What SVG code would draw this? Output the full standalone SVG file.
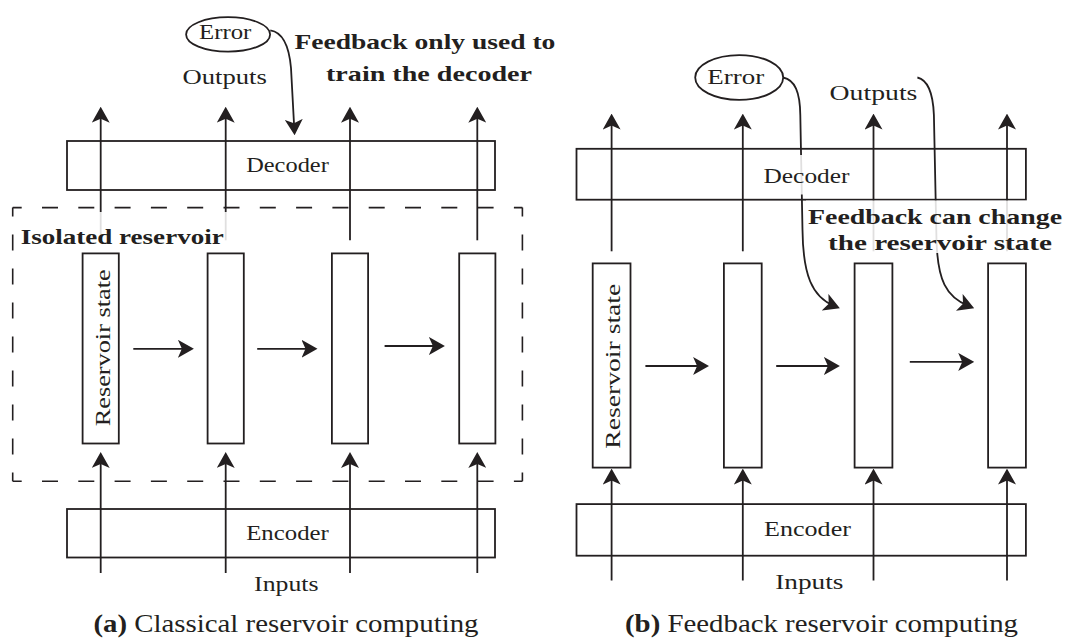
<svg xmlns="http://www.w3.org/2000/svg" width="1070" height="642" viewBox="0 0 1070 642">
<style>
.box{fill:none;stroke:#231f20;stroke-width:1.8}
.res{fill:#fff;stroke:#231f20;stroke-width:1.8}
.ln{fill:none;stroke:#231f20;stroke-width:1.8;marker-end:url(#ah)}
.dash{fill:none;stroke:#231f20;stroke-width:1.6}
.t{font-family:"Liberation Serif","Times New Roman",serif;fill:#231f20;font-size:22px}
.b{font-weight:bold;font-size:21px}
.cap{font-size:25px}
.bg{fill:#fff}
.bgf{fill:#fff;fill-opacity:0.86}
</style>
<defs>
<marker id="ah" markerUnits="userSpaceOnUse" markerWidth="16" markerHeight="18" viewBox="0 0 16 18" refX="10" refY="9" orient="auto">
<path d="M16,9 L0,0 L4,9 L0,18 Z" fill="#231f20"/>
</marker>
</defs>
<rect width="1070" height="642" fill="#fff"/>

<!-- connectors -->
<g id="connectors">
<!-- left outputs -->
<path class="ln" d="M100.7,240.3 V112.7"/>
<path class="ln" d="M225.7,240.3 V112.7"/>
<path class="ln" d="M350,240.3 V112.7"/>
<path class="ln" d="M477.3,240.3 V112.7"/>
<!-- left inputs -->
<path class="ln" d="M100.7,573 V458"/>
<path class="ln" d="M225.7,573 V458"/>
<path class="ln" d="M350,573 V458"/>
<path class="ln" d="M477.3,573 V458"/>
<!-- left reservoir chain -->
<path class="ln" d="M133.3,348.8 H187.9"/>
<path class="ln" d="M257.2,348.8 H311.5"/>
<path class="ln" d="M384.6,346 H438.9"/>
<!-- left error feedback -->
<path class="ln" d="M270.3,30.3 C282,32 289,45 291,68 L294.3,129.3"/>
<!-- right outputs -->
<path class="ln" d="M611.6,251.3 V119.6"/>
<path class="ln" d="M742.8,251.3 V119.6"/>
<path class="ln" d="M873.5,251.3 V119.6"/>
<path class="ln" d="M1007,251.3 V119.6"/>
<!-- right inputs -->
<path class="ln" d="M611.6,580.5 V474.6"/>
<path class="ln" d="M742.8,580.5 V474.6"/>
<path class="ln" d="M873.5,580.5 V474.6"/>
<path class="ln" d="M1007,580.5 V474.6"/>
<!-- right reservoir chain -->
<path class="ln" d="M645.4,366 H703.1"/>
<path class="ln" d="M776.2,366 H833.9"/>
<path class="ln" d="M909.8,361.9 H968.2"/>
<!-- right feedback curves -->
<path class="ln" d="M783.1,77.5 C795,80 800,92 800.3,115 L802.5,230 C803,275 812,297 834.3,306"/>
<path class="ln" d="M917.4,77.5 C928,80 933,92 933.9,115 L936.5,240 C937.5,280 946,297 968.6,306"/>
</g>

<!-- LEFT PANEL -->
<g id="a-error">
<ellipse cx="228.1" cy="34.4" rx="42" ry="17.2" class="box"/>
<text class="t" x="199" y="38.6" font-size="21" textLength="52.3" lengthAdjust="spacingAndGlyphs">Error</text>
</g>
<g id="a-outputs-label">
<text class="t" x="182.5" y="84" textLength="84.4" lengthAdjust="spacingAndGlyphs">Outputs</text>
</g>
<g id="a-feedback-label">
<text class="t b" x="294.4" y="49" textLength="261" lengthAdjust="spacingAndGlyphs">Feedback only used to</text>
<text class="t b" x="326" y="81" textLength="206" lengthAdjust="spacingAndGlyphs">train the decoder</text>
</g>
<g id="a-decoder">
<rect class="box" x="67" y="141" width="428" height="49"/>
<text class="t" x="246.2" y="172.2" textLength="82.6" lengthAdjust="spacingAndGlyphs">Decoder</text>
</g>
<g id="a-isolated-reservoir">
<path class="dash" d="M12.7,207.6 H522.4" stroke-dasharray="16 20.3" stroke-dashoffset="7"/>
<path class="dash" d="M12.7,481.3 H522.4" stroke-dasharray="16 20.3" stroke-dashoffset="7"/>
<path class="dash" d="M12.7,207.6 V481.3" stroke-dasharray="16 18" stroke-dashoffset="7"/>
<path class="dash" d="M522.4,207.6 V481.3" stroke-dasharray="16 18" stroke-dashoffset="7"/>
<rect class="bgf" x="16" y="212" width="212" height="29"/>
<text class="t b" x="20.7" y="243.8" textLength="203" lengthAdjust="spacingAndGlyphs">Isolated reservoir</text>
</g>
<g id="a-state1">
<rect class="res" x="82.6" y="253.4" width="36.2" height="190.1"/>
<text class="t" font-size="28" transform="translate(109.5,426.3) rotate(-90)" textLength="157" lengthAdjust="spacingAndGlyphs">Reservoir state</text>
</g>
<g id="a-state2"><rect class="res" x="207.6" y="253.4" width="36.2" height="190.1"/></g>
<g id="a-state3"><rect class="res" x="331.9" y="253.4" width="36.2" height="190.1"/></g>
<g id="a-state4"><rect class="res" x="459.2" y="253.4" width="36.2" height="190.1"/></g>
<g id="a-encoder">
<rect class="box" x="67" y="509" width="428" height="48.5"/>
<text class="t" x="246.2" y="539.9" textLength="82.6" lengthAdjust="spacingAndGlyphs">Encoder</text>
</g>
<g id="a-inputs-label">
<text class="t" x="254.1" y="590.9" textLength="64.4" lengthAdjust="spacingAndGlyphs">Inputs</text>
</g>
<g id="a-caption">
<text class="t cap" x="93.5" y="631.5" textLength="385" lengthAdjust="spacingAndGlyphs"><tspan font-weight="bold">(a)</tspan> Classical reservoir computing</text>
</g>

<!-- RIGHT PANEL -->
<g id="b-error">
<ellipse cx="739.2" cy="77.5" rx="44" ry="22.4" class="box"/>
<text class="t" x="707.3" y="84.4" textLength="56.8" lengthAdjust="spacingAndGlyphs">Error</text>
</g>
<g id="b-outputs-label">
<text class="t" x="829.6" y="99.9" textLength="87.8" lengthAdjust="spacingAndGlyphs">Outputs</text>
</g>
<g id="b-decoder">
<rect class="box" x="576.5" y="148.8" width="449.4" height="50.9"/>
<rect class="bgf" x="760" y="155" width="92" height="39.5"/>
<text class="t" x="763.5" y="182.5" textLength="86" lengthAdjust="spacingAndGlyphs">Decoder</text>
</g>
<g id="b-feedback-label">
<rect class="bgf" x="806" y="200.5" width="258" height="52.5"/>
<text class="t b" x="808" y="224" textLength="254" lengthAdjust="spacingAndGlyphs">Feedback can change</text>
<text class="t b" x="828" y="250" textLength="224" lengthAdjust="spacingAndGlyphs">the reservoir state</text>
</g>
<g id="b-state1">
<rect class="res" x="592.7" y="263.4" width="37.8" height="204.2"/>
<text class="t" font-size="29" transform="translate(620.2,448.7) rotate(-90)" textLength="165" lengthAdjust="spacingAndGlyphs">Reservoir state</text>
</g>
<g id="b-state2"><rect class="res" x="723.9" y="263.4" width="37.8" height="204.2"/></g>
<g id="b-state3"><rect class="res" x="854.6" y="263.4" width="37.8" height="204.2"/></g>
<g id="b-state4"><rect class="res" x="988.1" y="263.4" width="37.8" height="204.2"/></g>
<g id="b-encoder">
<rect class="box" x="576.5" y="504.1" width="449.4" height="51.6"/>
<text class="t" x="764.1" y="535.8" textLength="86.8" lengthAdjust="spacingAndGlyphs">Encoder</text>
</g>
<g id="b-inputs-label">
<text class="t" x="775.2" y="589.1" textLength="68.2" lengthAdjust="spacingAndGlyphs">Inputs</text>
</g>
<g id="b-caption">
<text class="t cap" x="625" y="631.5" textLength="393" lengthAdjust="spacingAndGlyphs"><tspan font-weight="bold">(b)</tspan> Feedback reservoir computing</text>
</g>
</svg>
